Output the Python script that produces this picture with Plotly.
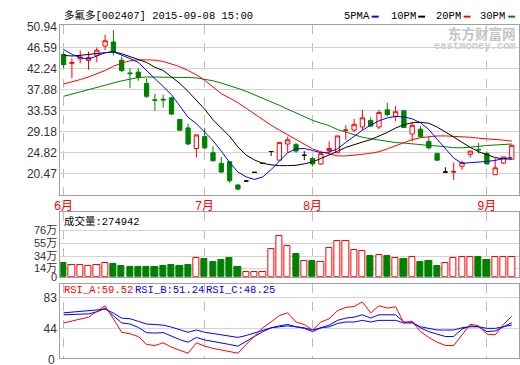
import plotly.graph_objects as go

# ---------------- data ----------------
idx = list(range(55))
month_pos = [0, 17, 30, 51]
month_text = ['6月', '7月', '8月', '9月']

open_ = [45.14, 43.27, 44.2, 43.9, 44.95, 46.85, 47.7, 43.94, 41.3, 41.47,
         39.14, 35.75, 35.85, 36.14, 31.67, 29.93, 25.67, 28.14, 24.8, 22.6,
         22.93, 18.14, 18.94, 20.74, 22.6, 25.05, 23.26, 26.6, 26.47, 24.27,
         23.6, 22.47, 25.27, 24.8, 29.4, 29.47, 30.13, 31.47, 30.13, 33.67,
         32.33, 33.47, 28.66, 29.67, 27.14, 24.66, 20.8, 20.8, 22.0, 24.47,
         25.47, 24.66, 20.26, 22.66, 23.46]
high = [45.67, 44.3, 45.94, 45.7, 46.55, 49.2, 50.14, 44.67, 42.27, 42.27,
        40.14, 36.94, 36.8, 36.34, 31.7, 30.8, 28.6, 29.93, 26.14, 23.93,
        22.95, 18.2, 18.94, 20.74, 22.6, 25.05, 26.93, 28.13, 26.8, 25.14,
        23.93, 24.6, 27.14, 28.27, 30.47, 31.8, 33.67, 32.13, 33.67, 35.14,
        34.47, 33.67, 31.13, 30.33, 28.13, 24.7, 21.8, 22.8, 23.13, 25.13,
        26.8, 25.0, 23.66, 23.93, 26.33]
low = [42.27, 40.2, 43.27, 41.95, 43.5, 46.0, 44.9, 41.47, 38.14, 39.67,
       36.14, 33.47, 34.14, 32.6, 29.4, 26.34, 23.8, 25.47, 23.0, 20.6,
       18.6, 17.0, 18.94, 20.74, 22.6, 24.14, 23.26, 24.8, 24.8, 23.26,
       21.93, 22.3, 24.47, 24.8, 27.47, 29.0, 29.47, 30.13, 29.67, 32.33,
       31.33, 29.93, 27.14, 27.93, 25.47, 23.2, 20.8, 19.13, 21.27, 23.8,
       24.6, 22.33, 20.26, 22.47, 23.46]
close = [43.0, 43.45, 44.6, 44.5, 46.0, 47.94, 45.6, 41.8, 41.15, 40.34,
         36.47, 35.62, 35.72, 32.8, 29.47, 26.6, 28.47, 25.8, 23.14, 20.8,
         19.0, 17.27, 18.94, 20.74, 22.6, 25.05, 26.93, 27.47, 25.14, 24.27,
         22.47, 24.6, 25.67, 28.27, 29.5, 30.67, 32.0, 30.33, 33.13, 32.67,
         33.27, 30.0, 30.47, 28.13, 25.8, 23.26, 20.8, 20.88, 22.8, 25.13,
         25.4, 22.47, 21.66, 23.93, 26.33]

ma5 = [46.14, 45.14, 44.47, 44.14, 44.8, 45.47, 45.67, 45.0, 44.27, 43.47,
       41.8, 40.0, 38.3, 36.8, 34.47, 32.13, 30.8, 29.13, 27.3, 25.13,
       22.8, 20.8, 19.8, 19.27, 19.8, 21.3, 23.14, 24.8, 25.6, 25.67,
       25.27, 24.8, 24.93, 25.6, 26.93, 28.27, 29.45, 30.5, 31.4, 32.0,
       32.3, 32.2, 31.8, 31.0, 29.6, 27.6, 25.6, 23.7, 22.6, 22.7,
       22.8, 23.0, 23.2, 23.6, 23.8]
ma10 = [44.94, 44.8, 44.94, 45.14, 45.34, 45.6, 45.67, 45.27, 44.67, 44.14,
        43.47, 42.47, 41.8, 40.47, 39.14, 37.47, 35.67, 33.8, 31.6, 29.9,
        28.2, 26.0, 24.3, 23.3, 22.6, 22.3, 22.13, 22.13, 22.2, 22.5,
        22.9, 23.6, 24.3, 25.1, 25.9, 26.5, 27.0, 27.5, 28.2, 29.0,
        29.9, 30.6, 31.0, 31.1, 30.9, 30.1, 29.1, 28.0, 26.9, 25.9,
        25.0, 24.4, 23.8, 23.5, 23.5]
ma20 = [39.0, 39.4, 39.93, 40.47, 41.14, 41.8, 42.67, 43.34, 43.8, 44.0,
        44.0, 43.94, 43.67, 43.1, 42.6, 41.8, 40.9, 39.8, 38.3, 37.0,
        36.1, 35.14, 34.0, 32.8, 31.67, 30.47, 29.47, 28.47, 27.47, 26.47,
        25.6, 25.0, 24.6, 24.14, 24.14, 24.27, 24.47, 24.7, 25.0, 25.6,
        26.2, 26.9, 27.5, 27.9, 28.15, 28.27, 28.27, 28.2, 28.1, 28.0,
        27.8, 27.7, 27.6, 27.4, 27.2]
ma30 = [36.47, 36.94, 37.34, 37.8, 38.27, 38.8, 39.27, 39.67, 40.0, 40.34,
        40.47, 40.47, 40.47, 40.47, 40.4, 40.34, 40.27, 40.0, 39.67, 39.2,
        38.7, 38.1, 37.5, 36.8, 36.1, 35.3, 34.6, 33.8, 33.0, 32.2,
        31.5, 30.9, 30.4, 29.6, 29.05, 28.5, 28.0, 27.7, 27.4, 27.1,
        26.9, 26.8, 26.6, 26.45, 26.3, 26.2, 26.0, 25.85, 25.8, 25.9,
        26.1, 26.3, 26.4, 26.5, 26.6]

vol = [22.3, 20.2, 20.2, 18.0, 20.2, 22.3, 20.7, 17.0, 15.9, 15.9,
       15.9, 15.9, 17.5, 20.2, 17.5, 20.2, 30.3, 28.7, 23.9, 27.1,
       30.3, 15.9, 7.4, 7.4, 7.4, 45.6, 68.0, 50.4, 38.2, 26.5,
       26.5, 24.9, 47.8, 58.4, 58.4, 44.1, 42.5, 35.0, 36.1, 35.0,
       30.3, 28.7, 31.8, 23.9, 25.5, 17.5, 23.4, 30.3, 31.8, 33.4,
       33.4, 27.1, 31.8, 33.4, 31.8]

rsi_a = [50.9, 53.4, 56.3, 58.3, 65.7, 72.8, 56.0, 39.0, 37.0, 33.6,
         23.4, 22.1, 25.5, 20.0, 16.0, 12.3, 25.5, 21.3, 18.4, 16.4,
         14.4, 12.3, 23.4, 33.6, 44.7, 52.1, 60.4, 63.8, 52.1, 48.9,
         41.9, 52.1, 56.3, 66.6, 70.7, 71.9, 77.7, 63.8, 72.8, 69.9,
         71.5, 50.9, 53.0, 39.8, 32.4, 26.3, 22.1, 22.1, 35.7, 49.3,
         47.2, 36.6, 35.7, 48.9, 59.52]
rsi_b = [61.3, 61.8, 62.0, 62.5, 65.0, 69.5, 60.0, 50.9, 49.6, 45.2,
         38.5, 38.0, 38.6, 33.6, 29.6, 26.3, 32.4, 29.2, 27.5, 25.5,
         23.4, 21.3, 27.0, 33.6, 39.8, 44.7, 47.2, 48.9, 46.0, 44.0,
         39.8, 44.7, 48.1, 54.2, 57.1, 58.3, 61.3, 57.1, 61.3, 61.7,
         61.3, 52.1, 52.1, 44.7, 39.8, 36.6, 33.6, 33.6, 43.2, 47.2,
         46.0, 39.8, 40.7, 46.0, 51.24]
rsi_c = [63.8, 64.5, 65.3, 66.6, 67.5, 68.7, 63.5, 57.1, 56.3, 53.0,
         49.5, 48.9, 48.1, 45.6, 42.3, 39.0, 41.9, 39.0, 37.4, 35.7,
         33.6, 32.4, 34.9, 38.2, 41.9, 44.7, 46.0, 47.2, 46.0, 44.7,
         41.9, 44.7, 46.0, 50.2, 52.1, 52.1, 54.2, 52.1, 54.2, 54.2,
         54.2, 50.9, 50.9, 46.0, 44.0, 41.9, 41.9, 41.9, 44.7, 46.0,
         46.0, 44.0, 44.0, 46.0, 48.25]

price_ticks = [16.12, 20.47, 24.82, 29.18, 33.53, 37.88, 42.24, 46.59, 50.94]
vol_ticks = [0, 14, 34, 55, 76]
vol_tick_text = ['0', '14万', '34万', '55万', '76万']
rsi_floor = 6.1
rsi_ticks = [44, 83]
rsi_tick_text = ['44', '83']

title_text = '多氟多[002407] 2015-09-08 15:00'
vol_label = '成交量:274942'
rsi_labels = ['RSI_A:59.52', 'RSI_B:51.24', 'RSI_C:48.25']
ma_names = ['5PMA', '10PM', '20PM', '30PM']

# ---------------- styling ----------------
W, H = 520, 365
RED, GREEN, BLUE, BLACK = '#ff0000', '#008000', '#0000ff', '#000000'
GRID = '#d4d4d4'
BORDER = '#a0a0a0'
MONO = 'Liberation Mono, Noto Sans CJK SC'
SANS = 'Liberation Sans, Noto Sans CJK SC'


def px(x):
    return x / W


def py(y):
    return 1 - y / H


up = [c > o for o, c in zip(open_, close)]
down = [c < o for o, c in zip(open_, close)]
flat = [c == o for o, c in zip(open_, close)]


def pick(arr, mask):
    return [a for a, m in zip(arr, mask) if m]


fig = go.Figure()


def candle(mask, line_col, fill_col):
    return go.Candlestick(
        x=pick(idx, mask), open=pick(open_, mask), high=pick(high, mask),
        low=pick(low, mask), close=pick(close, mask),
        increasing=dict(line=dict(color=line_col, width=1), fillcolor=fill_col),
        decreasing=dict(line=dict(color=line_col, width=1), fillcolor=fill_col),
        whiskerwidth=0, showlegend=False, hoverinfo='skip',
        xaxis='x', yaxis='y')


fig.add_trace(candle(up, RED, '#ffffff'))
fig.add_trace(candle(down, GREEN, GREEN))
fig.add_trace(candle(flat, BLACK, BLACK))

for arr, col in [(ma30, GREEN), (ma20, RED), (ma10, BLACK), (ma5, BLUE)]:
    fig.add_trace(go.Scatter(x=idx, y=arr, mode='lines',
                             line=dict(color=col, width=1),
                             showlegend=False, hoverinfo='skip',
                             xaxis='x', yaxis='y'))

fig.add_trace(go.Bar(
    x=idx, y=vol, width=0.74,
    marker=dict(color=[GREEN if d else '#ffffff' for d in down],
                line=dict(color=[GREEN if d else RED for d in down], width=1)),
    showlegend=False, hoverinfo='skip', xaxis='x2', yaxis='y2'))

for arr, col in [(rsi_c, BLUE), (rsi_b, BLUE), (rsi_a, RED)]:
    fig.add_trace(go.Scatter(x=idx, y=arr, mode='lines',
                             line=dict(color=col, width=1),
                             showlegend=False, hoverinfo='skip',
                             xaxis='x3', yaxis='y3'))

xdom = [px(55), px(519)]
xr = [-0.39, 54.87]
xcommon = dict(domain=xdom, range=xr, showline=True, mirror=True,
               linecolor=BORDER, linewidth=1, tickvals=month_pos,
               showgrid=True, gridcolor='#bdbdbd', griddash='dash',
               gridwidth=1, ticks='', zeroline=False, fixedrange=True)
ycommon = dict(showline=True, mirror=True, linecolor=BORDER, linewidth=1,
               showgrid=True, gridcolor=GRID, gridwidth=1, ticks='',
               zeroline=False, tickfont=dict(family=SANS, size=12, color='#333333'),
               fixedrange=True)

fig.update_layout(
    width=W, height=H, margin=dict(l=0, r=0, t=0, b=0),
    paper_bgcolor='#ffffff', plot_bgcolor='#ffffff',
    showlegend=False, boxgap=0.26, bargap=0,
    xaxis=dict(**xcommon, anchor='y', ticktext=month_text, showticklabels=True,
               tickfont=dict(family=SANS, size=12, color=RED),
               rangeslider=dict(visible=False)),
    xaxis2=dict(**xcommon, anchor='y2', showticklabels=False, matches='x'),
    xaxis3=dict(**xcommon, anchor='y3', showticklabels=False, matches='x'),
    yaxis=dict(**ycommon, domain=[py(195), py(20)], range=[16.14, 51.14],
               tickvals=price_ticks, ticktext=[f'{v:.2f}' for v in price_ticks],
               anchor='x'),
    yaxis2=dict(**ycommon, domain=[py(280), py(213)], range=[0, 106.7],
                tickvals=vol_ticks, ticktext=vol_tick_text, anchor='x2'),
    yaxis3=dict(**ycommon, domain=[py(364), py(287)], range=[rsi_floor, 101.2],
                tickvals=rsi_ticks, ticktext=rsi_tick_text, anchor='x3'),
)
fig.update_yaxes(tickfont=dict(size=11), selector=dict(anchor='x2'))

ann = []
ann.append(dict(text=title_text, x=px(57), y=py(9.5), xref='paper', yref='paper',
                xanchor='left', yanchor='middle', showarrow=False,
                font=dict(family=MONO, size=10.5, color='#000000')))
# MA legend
leg_x = [340, 387, 433, 478]
leg_col = [BLUE, BLACK, RED, GREEN]
shapes = []
for name, lx, col in zip(ma_names, leg_x, leg_col):
    ann.append(dict(text=name, x=px(lx), y=py(10.5), xref='paper', yref='paper',
                    xanchor='left', yanchor='middle', showarrow=False,
                    font=dict(family=MONO, size=10.5, color='#000000')))
    shapes.append(dict(type='rect', xref='paper', yref='paper',
                       x0=px(lx + 30), x1=px(lx + 37), y0=py(12), y1=py(10),
                       fillcolor=col, line=dict(width=0)))
# watermark
ann.append(dict(text='<b>东方财富网</b>', x=px(518), y=py(28), xref='paper', yref='paper',
                xanchor='right', yanchor='middle', showarrow=False,
                font=dict(family='Noto Sans CJK SC', size=13.5, color='#c4c4c4')))
ann.append(dict(text='<b>eastmoney.com</b>', x=px(518), y=py(41.5), xref='paper', yref='paper',
                xanchor='right', yanchor='middle', showarrow=False,
                font=dict(family='Liberation Mono', size=10.5, color='#cccccc')))
ann.append(dict(text=vol_label, x=px(57), y=py(223), xref='paper', yref='paper',
                xanchor='left', yanchor='middle', showarrow=False,
                font=dict(family=MONO, size=10.5, color='#000000')))
for txt, lx, col in zip(rsi_labels, [57, 128, 200], [RED, BLUE, BLUE]):
    ann.append(dict(text=txt, x=px(lx), y=py(294), xref='paper', yref='paper',
                    xanchor='left', yanchor='middle', showarrow=False,
                    font=dict(family=MONO, size=10.5, color=col)))
# RSI axis floor label (partly below the page edge, as in the original)
ann.append(dict(text='0', x=px(52), y=py(366), xref='paper', yref='paper',
                xanchor='right', yanchor='middle', showarrow=False,
                font=dict(family=SANS, size=12, color='#333333')))

fig.update_layout(annotations=ann, shapes=shapes)
fig.write_html('out.html',
               config={'displayModeBar': False},
               post_script="document.body.style.margin='0';"
                           "document.body.style.overflow='hidden';")
